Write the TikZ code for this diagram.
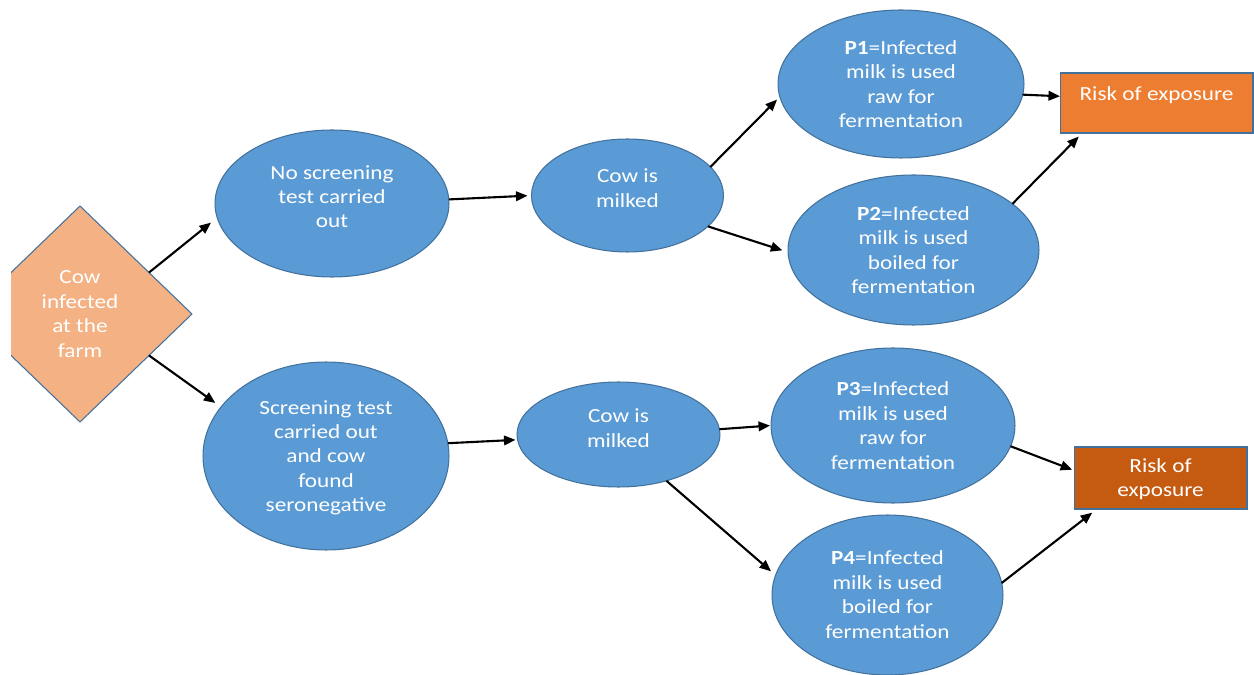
\documentclass[tikz,border=0pt]{standalone}
\usepackage{fontspec}
\setmainfont[FakeStretch=1.16]{Carlito}
\usetikzlibrary{shapes.geometric,arrows.meta}
\definecolor{ellfill}{HTML}{5B9BD5}
\definecolor{edge}{HTML}{41719C}
\definecolor{diafill}{HTML}{F4B183}
\definecolor{boxA}{HTML}{ED7D31}
\definecolor{boxB}{HTML}{C55A11}
\tikzset{
  base/.style={inner sep=0pt, outer sep=0pt, text=white, align=center,
    font=\fontsize{11.4}{13.9}\selectfont, text depth=-3pt, draw=edge, line width=0.6pt},
  ell/.style={base, ellipse, fill=ellfill},
  dia/.style={base, diamond, fill=diafill, minimum width=4.48cm, minimum height=4.32cm},
  riskbox/.style={base, rectangle},
  conn/.style={-{Triangle[length=2.3mm,width=1.9mm]}, line width=1.2pt, black}
}
\begin{document}
\begin{tikzpicture}[x=0.02cm,y=-0.02cm]
\useasboundingbox (0,0) rectangle (1254,675);
\begin{scope}
\clip (11,0) rectangle (1254,675);
\node[dia] (d) at (80,314) {Cow\\infected\\at the\\farm};
\end{scope}
\node[ell, minimum width=4.68cm, minimum height=2.94cm, text depth=7.8pt] (e1) at (332,203.5) {No screening\\test carried\\out};
\node[ell, minimum width=3.84cm, minimum height=2.26cm, text depth=8.5pt] (e2) at (627.5,195.5) {Cow is\\milked};
\node[ell, minimum width=4.92cm, minimum height=2.96cm] (e3) at (901,84) {\textbf{P1}=Infected\\milk is used\\raw for\\fermentation};
\node[ell, minimum width=5.02cm, minimum height=3.0cm] (e4) at (913.5,250) {\textbf{P2}=Infected\\milk is used\\boiled for\\fermentation};
\node[riskbox, fill=boxA, minimum width=3.86cm, minimum height=1.2cm, text height=8.3pt, text depth=10.7pt] (b1) at (1156.5,103) {Risk of exposure};
\node[ell, minimum width=4.92cm, minimum height=3.76cm, text depth=-1.9pt] (e5) at (326,456) {Screening test\\carried out\\and cow\\found\\seronegative};
\node[ell, minimum width=4.06cm, minimum height=2.1cm, text depth=7.3pt] (e6) at (618.5,434.5) {Cow is\\milked};
\node[ell, minimum width=4.88cm, minimum height=3.1cm] (e7) at (893,425.5) {\textbf{P3}=Infected\\milk is used\\raw for\\fermentation};
\node[ell, minimum width=4.62cm, minimum height=3.2cm, text depth=0.4pt] (e8) at (887.5,595) {\textbf{P4}=Infected\\milk is used\\boiled for\\fermentation};
\node[riskbox, fill=boxB, minimum width=3.46cm, minimum height=1.24cm, text depth=0.4pt] (b2) at (1160.5,478) {Risk of\\exposure};

\draw[conn, shorten >=8*0.02cm] (d.31) -- (e1.187);
\draw[conn, shorten >=7*0.02cm] (d.-31) -- (e5.155);
\draw[conn, shorten >=4*0.02cm] (e1.2) -- (e2.180);
\draw[conn, shorten >=4*0.02cm] (e2.19) -- (e3.186);
\draw[conn, shorten >=6*0.02cm] (e2.-21) -- (e4.181);
\draw[conn] (e3.-5) -- (b1.176);
\draw[conn, shorten >=5*0.02cm] (e4.25) -- (b1.202);
\draw[conn, shorten >=2*0.02cm] (e5.6) -- (e6.183);
\draw[conn, shorten >=1*0.02cm] (e6.3) -- (e7.180);
\draw[conn, shorten >=6*0.02cm] (e6.-44) -- (e8.170);
\draw[conn, shorten >=2*0.02cm] (e7.-10) -- (b2.175);
\draw[conn, shorten >=6*0.02cm] (e8.6) -- (b2.206);
\end{tikzpicture}
\end{document}
